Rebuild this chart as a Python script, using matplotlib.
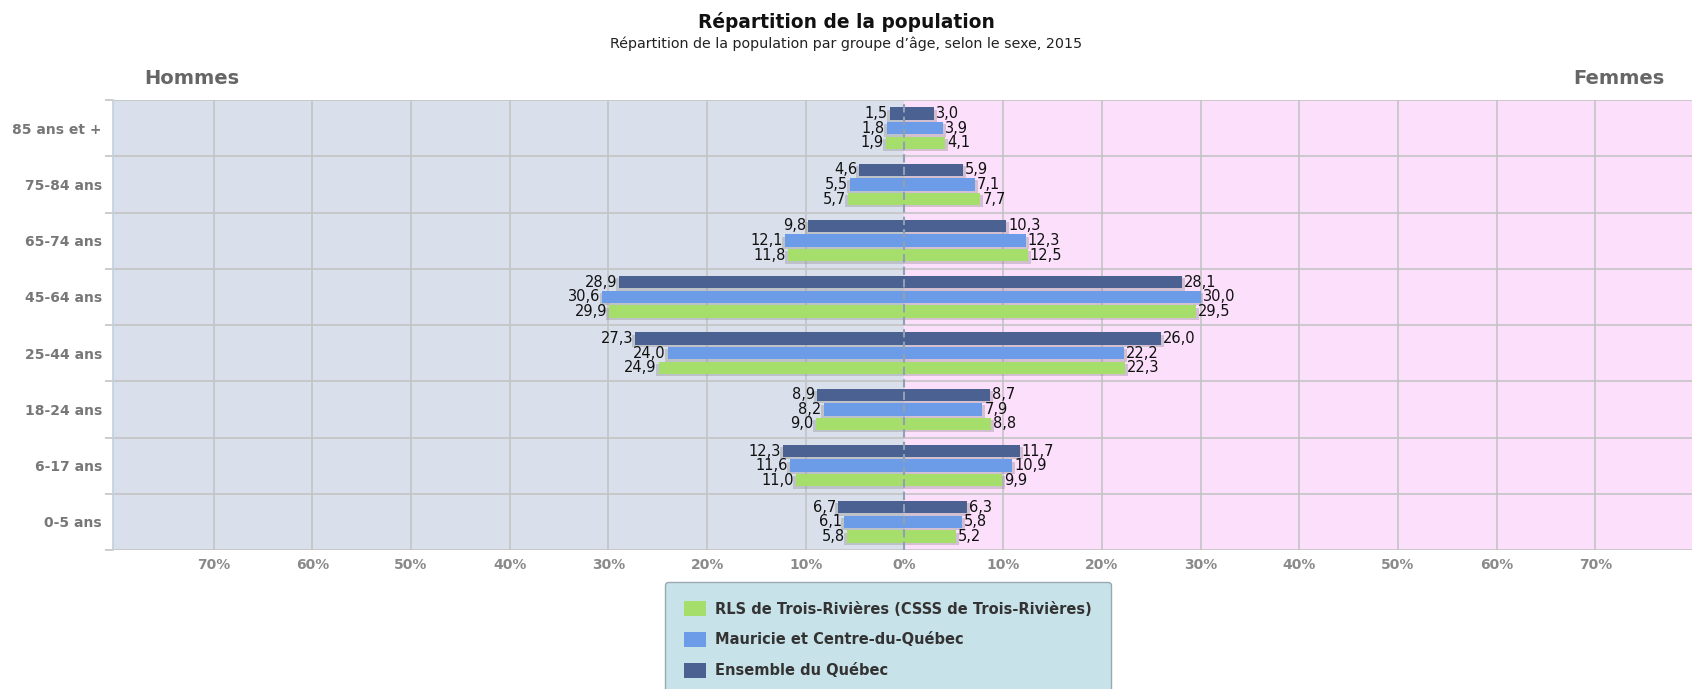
import matplotlib
matplotlib.use("Agg")
import matplotlib.pyplot as plt
import numpy as np
from matplotlib.patches import Rectangle

# categories, top to bottom
age_groups = ["85 ans et +", "75-84 ans", "65-74 ans", "45-64 ans",
              "25-44 ans", "18-24 ans", "6-17 ans", "0-5 ans"]

series = ["RLS de Trois-Rivières (CSSS de Trois-Rivières)",
          "Mauricie et Centre-du-Québec",
          "Ensemble du Québec"]

# hommes (left) / femmes (right), in %
rls_h = [1.9, 5.7, 11.8, 29.9, 24.9, 9.0, 11.0, 5.8]
rls_f = [4.1, 7.7, 12.5, 29.5, 22.3, 8.8, 9.9, 5.2]
mcq_h = [1.8, 5.5, 12.1, 30.6, 24.0, 8.2, 11.6, 6.1]
mcq_f = [3.9, 7.1, 12.3, 30.0, 22.2, 7.9, 10.9, 5.8]
qc_h = [1.5, 4.6, 9.8, 28.9, 27.3, 8.9, 12.3, 6.7]
qc_f = [3.0, 5.9, 10.3, 28.1, 26.0, 8.7, 11.7, 6.3]

colors = ["#a6de6c", "#6c9ce8", "#4a6191"]
offsets = [-0.26, 0.0, 0.26]   # green bottom, blue middle, dark top
bar_h = 0.22

fig = plt.figure(figsize=(16.92, 6.89), dpi=100)
ax = fig.add_axes([113 / 1692, 1 - 550 / 689, 1 - 113 / 1692, (550 - 100) / 689])

xmin, xmax = -80.2, 79.8
n = len(age_groups)
ypos = np.arange(n)[::-1]  # 85+ at top

ax.set_xlim(xmin, xmax)
ax.set_ylim(-0.5, n - 0.5)

# backgrounds
ax.add_patch(Rectangle((xmin, -0.5), -xmin, n, color="#dae0eb", zorder=0))
ax.add_patch(Rectangle((0, -0.5), xmax, n, color="#fbdffb", zorder=0))

# grid
for v in range(-70, 80, 10):
    if v != 0:
        ax.axvline(v, color="#c4c4c4", lw=1.2, zorder=1)
for b in np.arange(-0.5, n, 1.0):
    ax.axhline(b, color="#c4c4c4", lw=1.2, zorder=1)

data = [(rls_h, rls_f), (mcq_h, mcq_f), (qc_h, qc_f)]
for (hv, fv), off, col, lab in zip(data, offsets, colors, series):
    y = ypos + off
    hv = np.array(hv)
    fv = np.array(fv)
    # shadow
    ax.barh(y - 0.04, -hv - 0.3, height=bar_h, left=0.0, color="#888888", alpha=0.35,
            zorder=2, linewidth=0)
    ax.barh(y - 0.04, fv + 0.3, height=bar_h, left=0.0, color="#888888", alpha=0.35,
            zorder=2, linewidth=0)
    ax.barh(y, -hv, height=bar_h, color=col, zorder=3, linewidth=0, label=lab)
    ax.barh(y, fv, height=bar_h, color=col, zorder=3, linewidth=0)
    for yy, a, b in zip(y, hv, fv):
        ax.text(-a - 0.2, yy, f"{a:.1f}".replace(".", ","), ha="right", va="center",
                fontsize=10.5, color="#111111", zorder=5)
        ax.text(b + 0.2, yy, f"{b:.1f}".replace(".", ","), ha="left", va="center",
                fontsize=10.5, color="#111111", zorder=5)

ax.axvline(0, color="#8fa0b4", lw=1.5, ls=(0, (4, 2)), zorder=4)

# ticks
ticks = list(range(-70, 80, 10))
ax.set_xticks(ticks)
ax.set_xticklabels([f"{abs(t)}%" for t in ticks], fontsize=10, fontweight="bold",
                   color="#8a8a8a")
ax.tick_params(axis="x", length=0, pad=6)
ax.set_yticks(ypos)
ax.set_yticklabels(age_groups, fontsize=10, fontweight="bold", color="#777777")
ax.tick_params(axis="y", which="major", length=0, pad=8)
ax.set_yticks(np.arange(-0.5, n, 1.0), minor=True)
ax.tick_params(axis="y", which="minor", length=6, color="#c4c4c4", width=1.2)

for s in ["top", "right", "bottom"]:
    ax.spines[s].set_visible(False)
ax.spines["left"].set_color("#c4d0de")
ax.spines["left"].set_linewidth(1.2)

# titles
fig.text(0.5, 1 - 22 / 689, "Répartition de la population", ha="center", va="center",
         fontsize=13.4, fontweight="bold", color="#111111")
fig.text(0.5, 1 - 44 / 689, "Répartition de la population par groupe d’âge, selon le sexe, 2015",
         ha="center", va="center", fontsize=10.3, color="#222222")
fig.text(192 / 1692, 1 - 79 / 689, "Hommes", ha="center", va="center",
         fontsize=14, fontweight="bold", color="#666666")
fig.text(1619 / 1692, 1 - 79 / 689, "Femmes", ha="center", va="center",
         fontsize=14, fontweight="bold", color="#666666")

# legend
handles, labels = ax.get_legend_handles_labels()
leg = fig.legend(handles, labels, loc="upper left", bbox_to_anchor=(658 / 1692, 1 - 575 / 689),
                 frameon=True, fancybox=True, facecolor="#c8e2e9", edgecolor="#9aa8b0",
                 framealpha=1.0, handlelength=1.5, handleheight=1.2, handletextpad=0.6,
                 labelspacing=1.05, borderpad=1.3, prop={"weight": "bold", "size": 10.5})
for t in leg.get_texts():
    t.set_color("#333333")
for hnd in leg.legend_handles:
    hnd.set_edgecolor("none")

fig.savefig("out.png", dpi=100)
plt.close()
